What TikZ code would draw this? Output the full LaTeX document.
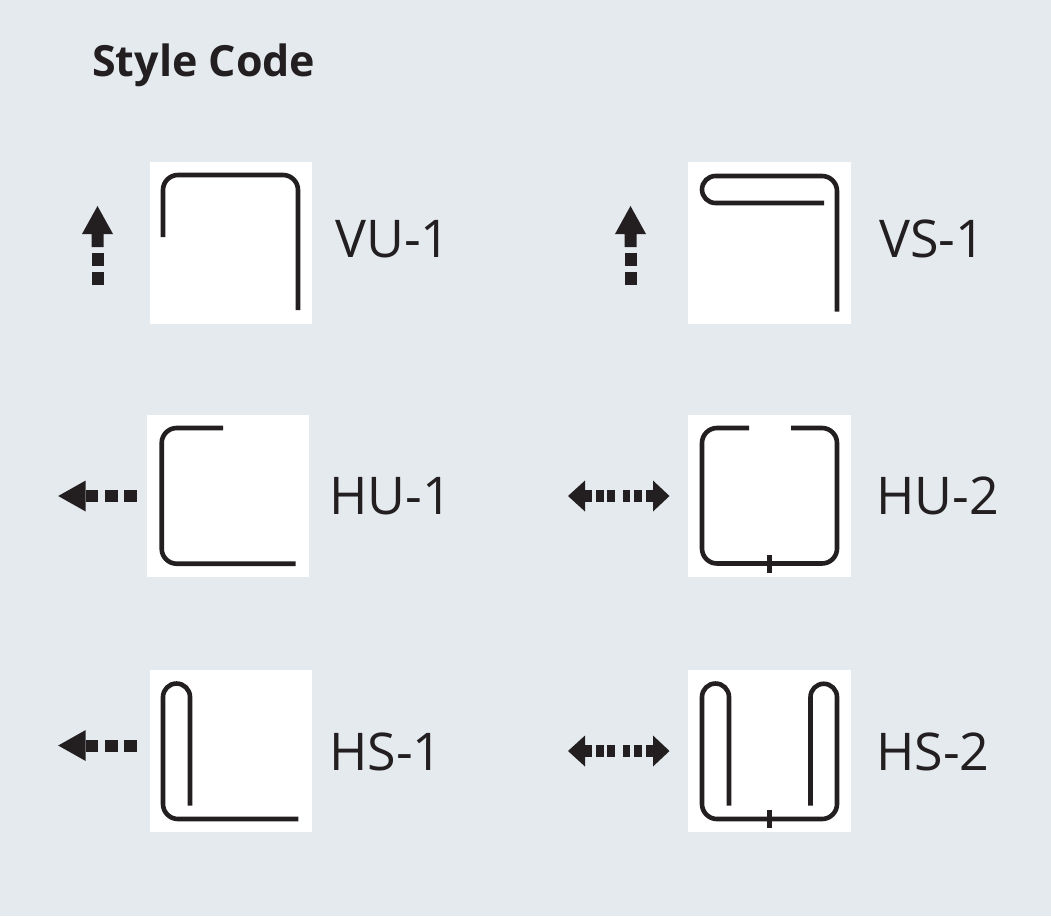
\documentclass[tikz,border=0pt]{standalone}
\usepackage{fontspec}
\setmainfont{Open Sans}
\usetikzlibrary{positioning}
\definecolor{panelBg}{HTML}{E5EAEF}
\definecolor{wireInk}{HTML}{231F20}
\tikzset{%
  x=1pt,y=-1pt,
  swatch/.style={fill=white,minimum size=162.5pt,inner sep=0pt,outer sep=0pt},
  wire/.style={draw=wireInk,line width=4.6pt},
  bentWire/.style={wire,rounded corners=15pt},
  tick/.style={draw=wireInk,line width=4.4pt},
  codeLabel/.style={font=\fontsize{52}{52}\selectfont,text=wireInk,anchor=base west,inner sep=0pt},
  titleLabel/.style={font=\fontsize{43}{43}\selectfont\bfseries,text=wireInk,anchor=base west,inner sep=0pt},
  pics/dotUp/.style={code={%
    \fill[wireInk] (0,-41) -- (15.5,-13) -- (6,-13) -- (6,0) -- (-6,0) -- (-6,-13) -- (-15.5,-13) -- cycle;
    \fill[wireInk] (-6,6) rectangle (6,19);
    \fill[wireInk] (-6,25) rectangle (6,38);
  }},
  pics/dotLeft/.style={code={%
    \fill[wireInk] (-27.5,0) -- (0,-15.5) -- (0,15.5) -- cycle;
    \fill[wireInk] (0,-6) rectangle (12.5,6);
    \foreach \sx in {19,38.5}
      \fill[wireInk] (\sx,-6) rectangle ++(13,12);
  }},
  pics/dotBoth/.style={code={%
    \fill[wireInk] (-17,0) -- (0,-15.5) -- (0,15.5) -- cycle;
    \fill[wireInk] (0,-6) rectangle (7,6);
    \foreach \sx in {11,22,37.7,49}
      \fill[wireInk] (\sx,-6) rectangle ++(7.5,12);
    \fill[wireInk] (60.7,-6) rectangle (68,6);
    \fill[wireInk] (84.5,0) -- (68,-15.5) -- (68,15.5) -- cycle;
  }},
}
\begin{document}
\begin{tikzpicture}
  \useasboundingbox (0,0) rectangle (1051,916);
  \fill[panelBg] (0,0) rectangle (1051,916);
  \node[titleLabel] (title) at (92,76) {Style Code};

  % swatches
  \node[swatch] (boxVUa) at (231,243) {};
  \node[swatch] (boxVSa) at (769.5,243) {};
  \node[swatch] (boxHUa) at (228,496) {};
  \node[swatch] (boxHUb) at (769.5,496) {};
  \node[swatch] (boxHSa) at (231,751) {};
  \node[swatch] (boxHSb) at (769.5,751) {};

  % codes
  \node[codeLabel] (labVUa) at (335,257) {VU-1};
  \node[codeLabel] (labVSa) at (879,257) {VS-1};
  \node[codeLabel] (labHUa) at (329,514) {HU-1};
  \node[codeLabel] (labHUb) at (876,514) {HU-2};
  \node[codeLabel] (labHSa) at (329,770) {HS-1};
  \node[codeLabel] (labHSb) at (876,770) {HS-2};

  % arrows
  \pic at (97.5,247) {dotUp};
  \pic at (630.5,247) {dotUp};
  \pic at (85.7,496) {dotLeft};
  \pic at (85.7,745.5) {dotLeft};
  \pic at (585,496) {dotBoth};
  \pic at (585,751) {dotBoth};

  % wires
  \draw[bentWire] (163,237) -- (163,175) -- (298,175) -- (298,310);
  \draw[wire] (824,203) -- (715.5,203) arc[start angle=90,end angle=270,radius=13.5] -- (822,176) arc[start angle=-90,end angle=0,radius=15] -- (837,311.5);
  \draw[bentWire] (223,428) -- (161.7,428) -- (161.7,563.7) -- (295.7,563.7);
  \draw[bentWire] (749,428) -- (702,428) -- (702,563.5) -- (837,563.5) -- (837,428) -- (791,428);
  \draw[tick] (769.5,555) -- (769.5,573);
  \draw[wire] (190,805.7) -- (190,697) arc[start angle=0,end angle=-180,radius=13.5] -- (163,804) arc[start angle=180,end angle=90,radius=15] -- (298.3,819);
  \draw[wire] (729,805.7) -- (729,697) arc[start angle=0,end angle=-180,radius=13.5] -- (702,804) arc[start angle=180,end angle=90,radius=15] -- (822,819) arc[start angle=90,end angle=0,radius=15] -- (837,697) arc[start angle=0,end angle=-180,radius=13.25] -- (810.5,805.7);
  \draw[tick] (769.5,810) -- (769.5,828);
\end{tikzpicture}
\end{document}
